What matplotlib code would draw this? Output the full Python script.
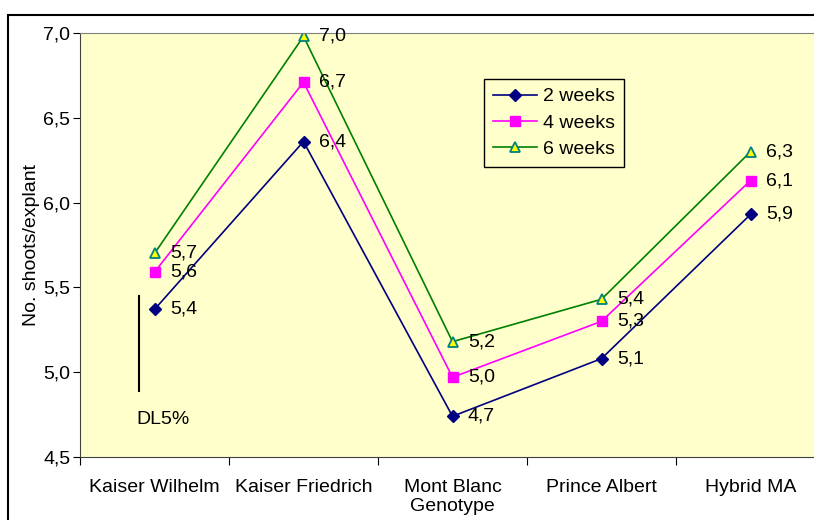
import matplotlib.pyplot as plt
from matplotlib.patches import Rectangle

plt.rcParams['font.family'] = ['Liberation Sans', 'DejaVu Sans']

genotypes = ['Kaiser Wilhelm', 'Kaiser Friedrich', 'Mont Blanc', 'Prince Albert', 'Hybrid MA']
weeks2 = [5.37, 6.36, 4.74, 5.08, 5.93]
weeks4 = [5.59, 6.71, 4.97, 5.30, 6.13]
weeks6 = [5.70, 6.98, 5.18, 5.43, 6.30]
yticks = [4.5, 5.0, 5.5, 6.0, 6.5, 7.0]
dl5 = [4.89, 5.45]

W, H = 814, 520
FS = 14
fig = plt.figure(figsize=(W / 100, H / 100), dpi=100)

# outer chart frame
fig.patches.append(Rectangle((8 / W, -0.1), 1.1, (H - 15) / H + 0.1, transform=fig.transFigure,
                             fill=False, edgecolor='black', linewidth=1.5))

ax = fig.add_axes([80 / W, (H - 457) / H, 745 / W, 424 / H])
ax.set_facecolor('#FFFFCC')

x = list(range(len(genotypes)))
series = [
    ('2 weeks', weeks2, dict(color='#000080', marker='D', markersize=6.5,
                             markerfacecolor='#000080', markeredgecolor='#000080')),
    ('4 weeks', weeks4, dict(color='#FF00FF', marker='s', markersize=7,
                             markerfacecolor='#FF00FF', markeredgecolor='#FF00FF')),
    ('6 weeks', weeks6, dict(color='#008000', marker='^', markersize=7.5,
                             markerfacecolor='#FFFF00', markeredgecolor='#008080',
                             markeredgewidth=1.3)),
]
for name, vals, style in series:
    ax.plot(x, vals, label=name, linewidth=1.2, **style)
    for xi, v in zip(x, vals):
        ax.annotate(f'{v:.1f}'.replace('.', ','), (xi, v), xytext=(11, 0),
                    textcoords='offset points', va='center', ha='left', fontsize=FS)

# DL5% bar
ax.plot([-0.107, -0.107], dl5, color='black', linewidth=1.5)
ax.text(-0.12, 4.72, 'DL5%', ha='left', va='center', fontsize=FS)

ax.set_xlim(-0.5, 4.5)
ax.set_ylim(4.5, 7.0)
ax.set_yticks(yticks)
ax.set_yticklabels([f'{t:.1f}'.replace('.', ',') for t in yticks], fontsize=FS)
ax.set_xticks([i - 0.5 for i in range(len(genotypes) + 1)])
ax.set_xticklabels([])
ax.set_xticks(x, minor=True)
ax.set_xticklabels(genotypes, minor=True, fontsize=FS)
ax.tick_params(axis='x', which='major', length=6, direction='out')
ax.tick_params(axis='x', which='minor', length=0, pad=16)
ax.tick_params(axis='y', length=5, direction='out', pad=2)

for side in ['top', 'right']:
    ax.spines[side].set_color('#808080')
for side in ['left', 'bottom']:
    ax.spines[side].set_color('#404040')

ax.set_xlabel('Genotype', fontsize=FS, labelpad=1)
ax.set_ylabel('No. shoots/explant', fontsize=FS, labelpad=2)

leg = ax.legend(loc='upper left', bbox_to_anchor=((484 - 80) / 745, (457 - 79) / 424),
                fontsize=FS, frameon=True, fancybox=False, edgecolor='black',
                facecolor='#FFFFCC', framealpha=1, handlelength=2.3,
                borderpad=0.45, labelspacing=0.45, handletextpad=0.3, borderaxespad=0)
leg.get_frame().set_linewidth(1.0)

fig.savefig('out.png', dpi=100)
